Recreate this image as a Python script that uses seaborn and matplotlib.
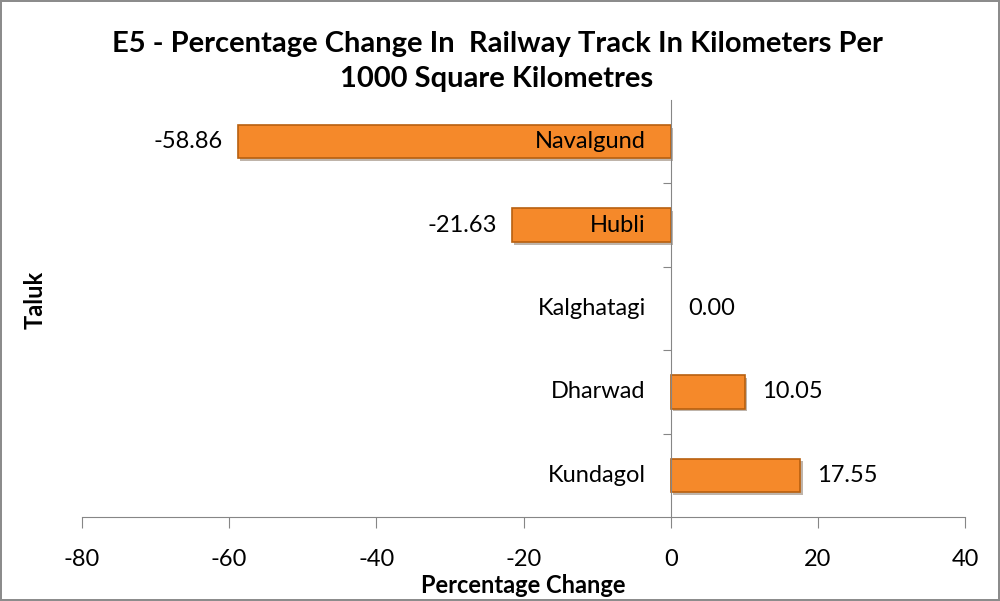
import matplotlib
matplotlib.use("Agg")
import matplotlib.pyplot as plt
import matplotlib.patheffects as pe
import seaborn as sns
import pandas as pd

# data
taluks = ["Navalgund", "Hubli", "Kalghatagi", "Dharwad", "Kundagol"]
pct_change = [-58.86, -21.63, 0.00, 10.05, 17.55]

df = pd.DataFrame({"Taluk": taluks, "Change": pct_change})

sns.set_style("white")
plt.rcParams["font.family"] = ["Lato", "DejaVu Sans"]
plt.rcParams["axes.unicode_minus"] = False
plt.rcParams["text.color"] = "black"
plt.rcParams["axes.labelcolor"] = "black"
plt.rcParams["xtick.color"] = "black"

fig = plt.figure(figsize=(10, 6.01), dpi=100)
fig.patch.set_edgecolor("#8c8c8c")
fig.patch.set_linewidth(1.5)
ax = fig.add_axes([0.082, 1 - 517 / 601, 0.883, 417 / 601])

sns.barplot(data=df, x="Change", y="Taluk", order=taluks, orient="h",
            color="#F5892A", saturation=1, width=0.4, ax=ax)

for bar, v in zip(ax.patches, pct_change):
    if v == 0:
        bar.set_visible(False)
        continue
    bar.set_edgecolor("#B8600F")
    bar.set_linewidth(1.2)
    bar.set_path_effects([pe.SimplePatchShadow(offset=(2, -2), alpha=0.35), pe.Normal()])

ax.set_xlim(-80, 40)
ax.set_ylim(4.5, -0.5)
ax.set_xticks(range(-80, 41, 20))
ax.set_yticks([0.5, 1.5, 2.5, 3.5])
ax.set_yticklabels([])
ax.tick_params(axis="y", left=True, length=6, color="#868686", direction="out")
ax.tick_params(axis="x", bottom=True, length=8, color="#868686", direction="out",
               labelsize=17, pad=15, labelcolor="black")

for s in ["top", "right"]:
    ax.spines[s].set_visible(False)
ax.spines["left"].set_position(("data", 0))
ax.spines["left"].set_color("#868686")
ax.spines["bottom"].set_color("#868686")

# labels
for i, (name, v) in enumerate(zip(taluks, pct_change)):
    ax.text(-3.4, i, name, ha="right", va="center", fontsize=17, color="black")
    if v < 0:
        ax.text(v - 2, i, f"{v:.2f}", ha="right", va="center", fontsize=17, color="black")
    else:
        ax.text(v + 2.4, i, f"{v:.2f}", ha="left", va="center", fontsize=17, color="black")

ax.set_xlabel("Percentage Change", fontsize=17, fontweight="bold", labelpad=3, color="black")
ax.set_ylabel("Taluk", fontsize=17, fontweight="bold", labelpad=0, color="black")
ax.yaxis.set_label_coords(-0.04, 0.52)

fig.suptitle("E5 - Percentage Change In  Railway Track In Kilometers Per\n1000 Square Kilometres",
             fontsize=21, fontweight="bold", y=0.948, x=0.497, linespacing=1.4, color="black")

fig.savefig("out.png", dpi=100)
